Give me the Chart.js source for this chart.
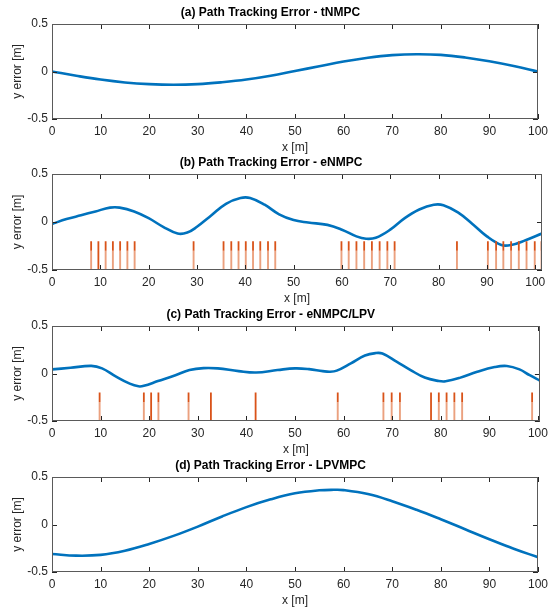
<!DOCTYPE html>
<html><head><meta charset="utf-8">
<script src="https://cdn.jsdelivr.net/npm/chart.js@4.4.1/dist/chart.umd.min.js"></script>
<style>
html,body{margin:0;padding:0;background:#fff;overflow:hidden;width:553px;height:607px;position:relative}
canvas{position:absolute;left:0}
</style>
</head><body>
<canvas id="ca" width="553" height="155" style="top:0px"></canvas>
<canvas id="cb" width="553" height="156" style="top:150px"></canvas>
<canvas id="cc" width="553" height="155" style="top:302px"></canvas>
<canvas id="cd" width="553" height="155" style="top:453px"></canvas>
<script>
// ---- tick labels ----
const xTicks = [0,10,20,30,40,50,60,70,80,90,100];
const yTicks = [-0.5,0,0.5];

// ---- titles ----
const titleA = '(a) Path Tracking Error - tNMPC';
const titleB = '(b) Path Tracking Error - eNMPC';
const titleC = '(c) Path Tracking Error - eNMPC/LPV';
const titleD = '(d) Path Tracking Error - LPVMPC';

// ---- (a) tNMPC ----
const xA   = [0,5,10,15,20,25,30,35,40,45,50,55,60,65,70,75,80,85,90,95,100];
const errA = [0,-0.045,-0.085,-0.115,-0.133,-0.14,-0.133,-0.113,-0.085,-0.045,0.005,0.055,0.105,0.145,0.172,0.182,0.175,0.148,0.108,0.058,0.0];

// ---- (b) eNMPC ----
const xB   = [0,3,6,9,12,14,17,20,23,26,28,30,33,36,39,41,44,47,50,53,57,60,63,65,67,70,73,76,79,81,84,87,90,93,95,98,101.4];
const errB = [-0.02,0.03,0.07,0.11,0.15,0.15,0.11,0.04,-0.05,-0.12,-0.11,-0.05,0.07,0.19,0.25,0.25,0.18,0.08,0.02,-0.005,-0.03,-0.08,-0.15,-0.175,-0.165,-0.08,0.04,0.13,0.18,0.175,0.1,-0.02,-0.15,-0.24,-0.24,-0.19,-0.12];
const stemsB = [8.1,9.6,11.1,12.6,14.1,15.6,17.1,29.3,35.5,37.1,38.6,40.1,41.6,43.1,44.7,46.2,59.9,61.4,63.0,64.6,66.2,67.8,69.4,70.9,83.8,90.2,91.9,93.4,95.0,96.6,98.2,99.9,101.3];
const darkB = [9.6];

// ---- (c) eNMPC/LPV ----
const xC   = [0,3.8,8.1,10.3,13.1,16,17.8,18.9,21.8,25.4,28.3,31.2,34.1,38.4,42,46.4,50,52.9,55.7,57.2,58.6,61.5,64.4,66.6,68,70.9,73.8,76.7,79.6,81,83.9,87.5,91.1,93.6,96.2,98.3,100.4];
const errC = [0.043,0.06,0.08,0.054,-0.03,-0.107,-0.135,-0.13,-0.08,-0.018,0.036,0.057,0.054,0.025,0.01,0.036,0.054,0.046,0.025,0.018,0.03,0.107,0.19,0.215,0.21,0.125,0.036,-0.043,-0.079,-0.082,-0.046,0.018,0.068,0.079,0.043,-0.018,-0.075];
const stemsC = [9.8,18.9,20.4,21.9,28.1,32.7,41.9,58.8,68.2,69.9,71.6,78.0,79.6,81.2,82.8,84.4,98.8];
const darkC = [20.4,32.7,41.9,78.0];

// ---- (d) LPVMPC ----
const xD   = [0,5,10,15,20,25,30,35,40,45,50,55,58,60,65,70,75,80,85,90,95,100];
const errD = [-0.31,-0.328,-0.32,-0.276,-0.205,-0.12,-0.022,0.085,0.183,0.265,0.328,0.36,0.365,0.362,0.32,0.245,0.155,0.055,-0.05,-0.155,-0.255,-0.344];

// stem levels (data units)
const stemTop = -0.2, stemMid = -0.3, stemBottom = -0.5;

const FONT = "'Liberation Sans', Arial, Helvetica, sans-serif";
const TXT = '#262626';

const boxPlugin = {
  id: 'matlabBox',
  afterDatasetsDraw(chart) {
    const {ctx, chartArea: a, scales: {x, y}} = chart;
    ctx.save();
    ctx.lineWidth = 1;
    ctx.strokeStyle = '#262626';
    ctx.beginPath();
    x.ticks.forEach(t => {
      const px = Math.round(x.getPixelForValue(t.value)) + 0.5;
      ctx.moveTo(px, a.bottom); ctx.lineTo(px, a.bottom - 5);
      ctx.moveTo(px, a.top); ctx.lineTo(px, a.top + 5);
    });
    y.ticks.forEach(t => {
      const py = Math.round(y.getPixelForValue(t.value)) + 0.5;
      ctx.moveTo(a.left, py); ctx.lineTo(a.left + 5, py);
      ctx.moveTo(a.right, py); ctx.lineTo(a.right - 5, py);
    });
    ctx.stroke();
    ctx.strokeStyle = '#5a5a5a';
    ctx.strokeRect(Math.round(a.left) + 0.5, Math.round(a.top) + 0.5,
                   Math.round(a.right) - Math.round(a.left) - 1, Math.round(a.bottom) - Math.round(a.top) - 1);
    ctx.restore();
  }
};

function stemData(stems, dark, full) {
  const out = [];
  stems.forEach(s => {
    const isDark = dark.includes(s);
    if (full) {
      out.push({x: s, y: stemTop}, {x: s, y: isDark ? stemBottom : stemMid}, {x: s, y: null});
    } else if (!isDark) {
      out.push({x: s, y: stemMid}, {x: s, y: stemBottom}, {x: s, y: null});
    }
  });
  return out;
}

function make(id, title, xs, ys, stems, dark, xMax, rightPad) {
  const datasets = [];
  if (stems) {
    datasets.push({
      data: stemData(stems, dark, true), borderColor: '#D95319', borderWidth: 1.8,
      pointRadius: 0, tension: 0, spanGaps: false, order: 0
    });
    datasets.push({
      data: stemData(stems, dark, false), borderColor: 'rgba(232,145,105,0.85)', borderWidth: 1.9,
      pointRadius: 0, tension: 0, spanGaps: false, order: 1
    });
  }
  datasets.push({
    data: xs.map((v, i) => ({x: v, y: ys[i]})), borderColor: '#0072BD', borderWidth: 2.6,
    pointRadius: 0, tension: 0.4, order: 2
  });
  new Chart(document.getElementById(id), {
    type: 'line',
    data: {datasets},
    options: {
      responsive: false, animation: false, devicePixelRatio: 1,
      layout: {padding: {left: 0, right: rightPad, top: 0, bottom: 0}, autoPadding: false},
      plugins: {
        legend: {display: false}, tooltip: {enabled: false},
        title: {display: true, text: title, color: '#000',
                font: {family: FONT, size: 12, weight: 'bold', lineHeight: 1.2},
                padding: {top: 5, bottom: 4.6}}
      },
      scales: {
        x: {
          type: 'linear', min: 0, max: xMax,
          grid: {display: false, drawTicks: false}, border: {display: false},
          ticks: {color: TXT, font: {family: FONT, size: 12}, padding: 5, maxRotation: 0, autoSkip: false,
                  callback: v => String(v)},
          afterBuildTicks: s => { s.ticks = xTicks.map(v => ({value: v})); },
          afterFit: s => { s.height = 36; },
          title: {display: true, text: 'x [m]', color: TXT, font: {family: FONT, size: 12}, padding: {top: 0, bottom: 0}}
        },
        y: {
          type: 'linear', min: -0.5, max: 0.5,
          grid: {display: false, drawTicks: false}, border: {display: false},
          ticks: {color: TXT, font: {family: FONT, size: 12}, padding: 4, callback: v => String(v)},
          afterBuildTicks: s => { s.ticks = yTicks.map(v => ({value: v})); },
          afterFit: s => { s.width = 52; },
          title: {display: true, text: 'y error [m]', color: TXT, font: {family: FONT, size: 12}, padding: {top: 10, bottom: 0}}
        }
      }
    },
    plugins: [boxPlugin]
  });
}

make('ca', titleA, xA, errA, null, [], 100, 12);
make('cb', titleB, xB, errB, stemsB, darkB, 101.4, 11);
make('cc', titleC, xC, errC, stemsC, darkC, 100.4, 11.5);
make('cd', titleD, xD, errD, null, [], 100, 12);
</script>
</body></html>
